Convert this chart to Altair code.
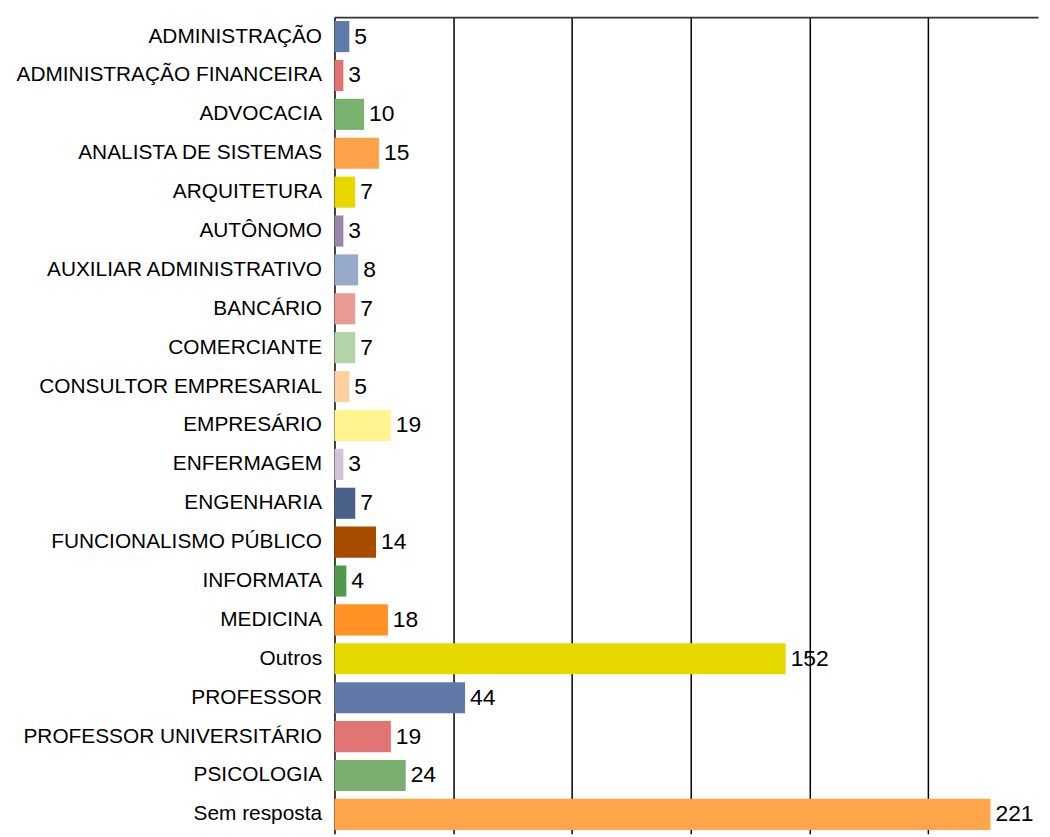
import altair as alt
import pandas as pd

categories = [
    "ADMINISTRAÇÃO", "ADMINISTRAÇÃO FINANCEIRA", "ADVOCACIA", "ANALISTA DE SISTEMAS",
    "ARQUITETURA", "AUTÔNOMO", "AUXILIAR ADMINISTRATIVO", "BANCÁRIO", "COMERCIANTE",
    "CONSULTOR EMPRESARIAL", "EMPRESÁRIO", "ENFERMAGEM", "ENGENHARIA",
    "FUNCIONALISMO PÚBLICO", "INFORMATA", "MEDICINA", "Outros", "PROFESSOR",
    "PROFESSOR UNIVERSITÁRIO", "PSICOLOGIA", "Sem resposta",
]
values = [5, 3, 10, 15, 7, 3, 8, 7, 7, 5, 19, 3, 7, 14, 4, 18, 152, 44, 19, 24, 221]
colors = [
    "#5F7BAA", "#E0736F", "#7AB270", "#FFA24A", "#E8D800", "#9A86A6", "#97AACB",
    "#E99B93", "#B3D4A8", "#FFCFA0", "#FFF48E", "#D2C3D8", "#4B6189", "#A84C00",
    "#519A4C", "#FF9222", "#E6D900", "#6079A7", "#E07573", "#79B06F", "#FFA54A",
]

df = pd.DataFrame({"cat": categories, "val": values, "color": colors})

base = alt.Chart(df).encode(
    y=alt.Y(
        "cat:N",
        sort=categories,
        scale=alt.Scale(paddingInner=0.2, paddingOuter=0.1),
        axis=alt.Axis(
            title=None,
            labelFont="Liberation Sans",
            labelFontSize=21,
            labelColor="#000000",
            labelPadding=13,
            labelLimit=400,
            ticks=False,
            domainColor="#000000",
            domainWidth=1.5,
        ),
    ),
    x=alt.X(
        "val:Q",
        scale=alt.Scale(domain=[0, 237], nice=False, zero=True),
        axis=alt.Axis(
            orient="top",
            values=[40, 80, 120, 160, 200],
            labels=False,
            ticks=False,
            title=None,
            grid=True,
            gridColor="#000000",
            gridWidth=1.5,
            domainColor="#333333",
            domainWidth=2,
        ),
    ),
)

bars = base.mark_bar().encode(color=alt.Color("color:N", scale=None))

text = base.mark_text(
    align="left", baseline="middle", dx=5,
    font="Liberation Sans", fontSize=23, color="#000000",
).encode(text="val:Q")

chart = (
    (bars + text)
    .properties(
        width=709,
        height=823,
        autosize=alt.AutoSizeParams(type="none"),
        padding={"top": 6, "left": 329, "right": 4, "bottom": 0},
    )
    .configure_view(stroke=None)
)

chart.save("out.html", embed_options={"renderer": "svg", "actions": False})
